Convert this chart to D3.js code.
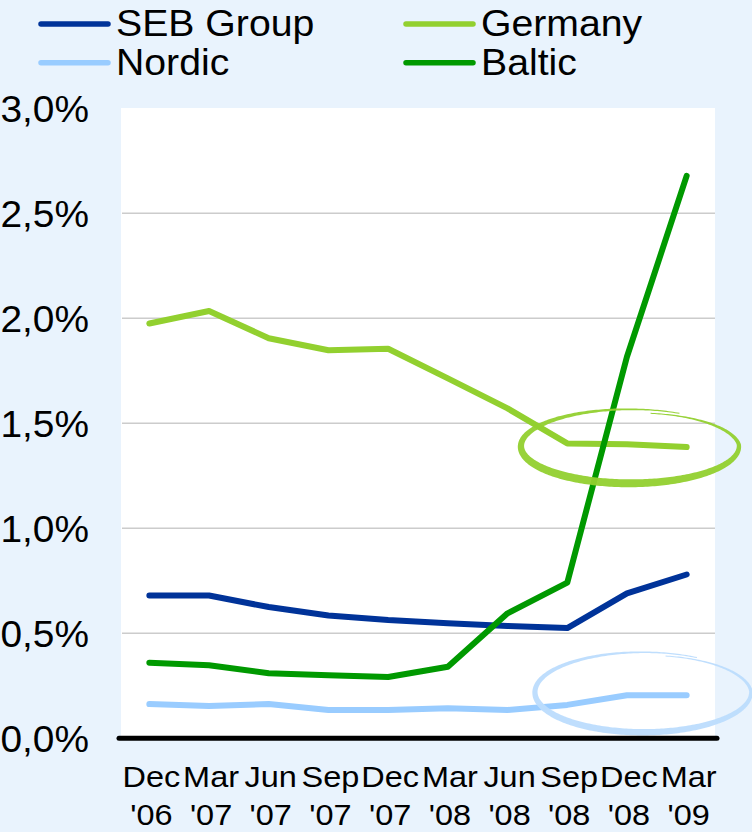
<!DOCTYPE html>
<html>
<head>
<meta charset="utf-8">
<script src="https://cdn.jsdelivr.net/npm/d3@7"></script>
<style>
  html, body { margin: 0; padding: 0; background: #e9f3fd; }
  svg { display: block; }
  text { font-family: "Liberation Sans", Arial, sans-serif; fill: #000; }
</style>
</head>
<body>
<svg id="chart" width="752" height="832"></svg>
<script>
// Quarter labels (two lines each)
const months = ["Dec", "Mar", "Jun", "Sep", "Dec", "Mar", "Jun", "Sep", "Dec", "Mar"];
const years  = ["'06", "'07", "'07", "'07", "'07", "'08", "'08", "'08", "'08", "'09"];
const categories = months.map((m, i) => m + " " + years[i]);

// Series values, %
const sebGroup = [0.68, 0.68, 0.625, 0.585, 0.563, 0.548, 0.535, 0.525, 0.69, 0.78];
const nordic   = [0.163, 0.154, 0.163, 0.135, 0.135, 0.143, 0.135, 0.159, 0.205, 0.205];
const germany  = [1.975, 2.035, 1.905, 1.848, 1.855, 1.714, 1.571, 1.404, 1.400, 1.387];
const baltic   = [0.36, 0.348, 0.31, 0.30, 0.292, 0.341, 0.595, 0.741, 1.817, 2.678];

const yTicks = [0, 0.5, 1.0, 1.5, 2.0, 2.5, 3.0];
const yTickLabels = ["0,0%", "0,5%", "1,0%", "1,5%", "2,0%", "2,5%", "3,0%"];

const series = [
  { name: "SEB Group", values: sebGroup, color: "#003399" },
  { name: "Nordic",    values: nordic,   color: "#99ccff" },
  { name: "Germany",   values: germany,  color: "#92d02f" },
  { name: "Baltic",    values: baltic,   color: "#009900" }
];

// Highlighted stretch (last three quarters) for two series
const highlights = [
  { series: "Germany", at: "Dec '08", color: "#92d02f", dx: 3,  dy: 2,  rx: 109, ry: 37, t0: -63, sweep: 375, shrink: 0.09, wMax: 8 },
  { series: "Nordic",  at: "Dec '08", color: "#bcdcfd", dx: 16, dy: -3, rx: 108, ry: 40, t0: -60, sweep: 377, shrink: 0.07, wMax: 6.5 }
];

const svg = d3.select("#chart");

const plot = { left: 121, right: 715, top: 108, bottom: 739 };

const x = d3.scalePoint().domain(categories).range([119.5, 716.5]).padding(0.5);
const y = d3.scaleLinear().domain([0, 3]).range([738.3, 108.3]);

// Background + plot area
svg.append("rect").attr("width", 752).attr("height", 832).attr("fill", "#e9f3fd");
svg.append("rect")
  .attr("x", plot.left).attr("y", plot.top)
  .attr("width", plot.right - plot.left).attr("height", plot.bottom - plot.top)
  .attr("fill", "#ffffff");

// Horizontal gridlines
svg.append("g").selectAll("line")
  .data(yTicks.filter(v => v > 0 && v < 3))
  .join("line")
  .attr("x1", plot.left + 1).attr("x2", plot.right)
  .attr("y1", d => y(d)).attr("y2", d => y(d))
  .attr("stroke", "#cccccc").attr("stroke-width", 1.5);

// Y tick labels
svg.append("g").selectAll("text")
  .data(yTicks)
  .join("text")
  .attr("transform", d => `translate(89,${y(d) + 13.3}) scale(1.05,1)`)
  .attr("text-anchor", "end")
  .attr("font-size", 37)
  .text((d, i) => yTickLabels[i]);

// X tick labels
const xl = svg.append("g");
xl.selectAll("text.m")
  .data(months)
  .join("text").attr("class", "m")
  .attr("transform", (d, i) => `translate(${x(categories[i]) + 2},786.7) scale(1.12,1)`)
  .attr("text-anchor", "middle")
  .attr("font-size", 29)
  .text(d => d);
xl.selectAll("text.yr")
  .data(years)
  .join("text").attr("class", "yr")
  .attr("transform", (d, i) => `translate(${x(categories[i]) + 2},825) scale(1.12,1)`)
  .attr("text-anchor", "middle")
  .attr("font-size", 29)
  .text(d => d);

const line = d3.line()
  .x((d, i) => x(categories[i]))
  .y(d => y(d));

const linesG = svg.append("g");
function drawSeries(s) {
  linesG.append("path")
    .attr("d", line(s.values))
    .attr("fill", "none")
    .attr("stroke", s.color)
    .attr("stroke-width", 6)
    .attr("stroke-linejoin", "round")
    .attr("stroke-linecap", "round");
}
series.filter(s => s.name !== "Baltic").forEach(drawSeries);

// Hand-drawn style ring: a tapered stroke that runs a little over one lap
function ringPath(cx, cy, h) {
  const N = 300, outer = [], inner = [];
  for (let i = 0; i <= N; i++) {
    const f = i / N;
    const t = (h.t0 - h.sweep * f) * Math.PI / 180;
    const s = 1 - h.shrink * Math.max(0, (f - 0.8) / 0.2);
    const px = cx + s * h.rx * Math.cos(t);
    const py = cy + s * h.ry * Math.sin(t);
    let nx = h.ry * Math.cos(t), ny = h.rx * Math.sin(t);
    const nl = Math.hypot(nx, ny); nx /= nl; ny /= nl;
    const w = 1 + (h.wMax - 1) * Math.pow(Math.sin(Math.PI * f), 1.5);
    outer.push([px + nx * w / 2, py + ny * w / 2]);
    inner.push([px - nx * w / 2, py - ny * w / 2]);
  }
  return d3.line()(outer.concat(inner.reverse())) + "Z";
}

const ringG = svg.append("g");
highlights.forEach(h => {
  const s = series.find(d => d.name === h.series);
  const i = categories.indexOf(h.at);
  const cx = x(categories[i]) + h.dx;
  const cy = y(s.values[i]) + h.dy;
  ringG.append("path")
    .attr("d", ringPath(cx, cy, h))
    .attr("fill", h.color)
    .attr("opacity", 0.95);
});

series.filter(s => s.name === "Baltic").forEach(drawSeries);

// Zero axis
svg.append("line")
  .attr("x1", 119).attr("x2", 717)
  .attr("y1", y(0)).attr("y2", y(0))
  .attr("stroke", "#000").attr("stroke-width", 5)
  .attr("stroke-linecap", "round");

// Legend (two columns)
const legendItems = [
  { name: "SEB Group", col: 0, row: 0 },
  { name: "Germany",   col: 1, row: 0 },
  { name: "Nordic",    col: 0, row: 1 },
  { name: "Baltic",    col: 1, row: 1 }
];
const colX = [39, 404];
const rowY = [24, 62.7];
const leg = svg.append("g");
legendItems.forEach(it => {
  const s = series.find(d => d.name === it.name);
  const lx = colX[it.col], ly = rowY[it.row];
  leg.append("line")
    .attr("x1", lx + 2).attr("x2", lx + 69)
    .attr("y1", ly).attr("y2", ly)
    .attr("stroke", s.color).attr("stroke-width", 5.5)
    .attr("stroke-linecap", "round");
  leg.append("text")
    .attr("transform", `translate(${lx + 77},${ly + 12.3}) scale(1.06,1)`)
    .attr("font-size", 37)
    .text(s.name);
});
</script>
</body>
</html>
